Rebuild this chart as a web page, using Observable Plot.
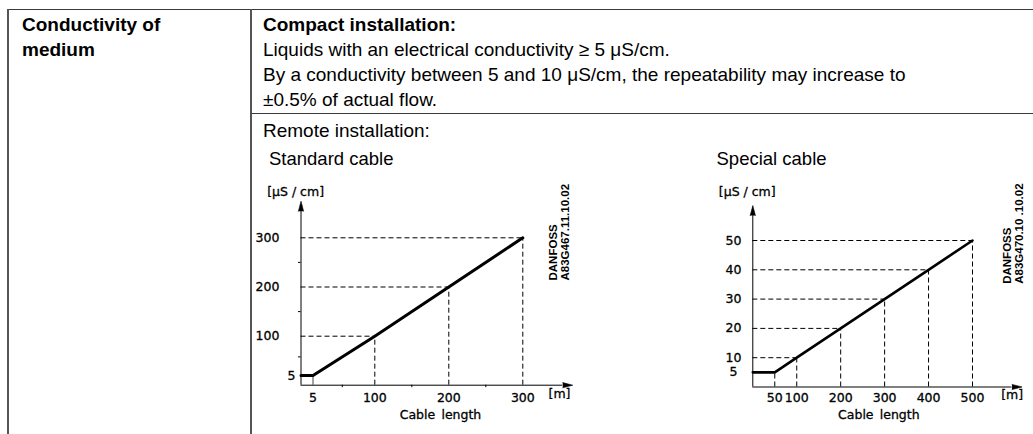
<!DOCTYPE html>
<html><head><meta charset="utf-8">
<script src="https://cdn.jsdelivr.net/npm/d3@7"></script>
<script src="https://cdn.jsdelivr.net/npm/@observablehq/plot@0.6"></script>
<style>
body{margin:0;background:#fff;}
#page{position:relative;width:1033px;height:434px;overflow:hidden;background:#fff;font-family:"Liberation Sans",Arial,sans-serif;color:#000;}
.ln{position:absolute;background:#3a3a3a;}
.t{position:absolute;white-space:nowrap;font-size:19px;line-height:25px;}
.chart{position:absolute;}
.chart svg{overflow:visible;}
</style></head><body>
<div id="page">
  <div class="ln" style="left:8px;top:8.5px;width:1025px;height:1.5px"></div>
  <div class="ln" style="left:7px;top:9px;width:2px;height:425px;background:#555"></div>
  <div class="ln" style="left:250px;top:9px;width:2px;height:425px;background:#555"></div>
  <div class="ln" style="left:251px;top:112.5px;width:782px;height:1.5px"></div>
  <div class="t" style="left:22px;top:12px;font-weight:bold">Conductivity of<br>medium</div>
  <div class="t" style="left:263px;top:12px"><b>Compact installation:</b><br>Liquids with an electrical conductivity ≥ 5 μS/cm.<br>By a conductivity between 5 and 10 μS/cm, the repeatability may increase to<br>±0.5% of actual flow.</div>
  <div class="t" style="left:263px;top:118px">Remote installation:</div>
  <div class="t" style="left:269px;top:146px;font-size:18.5px">Standard cable</div>
  <div class="t" style="left:716.5px;top:146px;font-size:18.5px">Special cable</div>
  <div class="chart" id="c1" style="left:252px;top:140px"></div>
  <div class="chart" id="c2" style="left:690px;top:140px"></div>
</div>
<script>
// ---- data: standard cable ----
const stdLength = [0, 5, 100, 200, 300];
const stdCond   = [5, 5, 100, 200, 300];
const stdXTicks = [5, 100, 200, 300];
const stdYTicks = [100, 200, 300];
const stdYLow   = [5];
const stdMinor  = [50, 150, 250];
// ---- data: special cable ----
const spcLength = [0, 50, 100, 200, 300, 400, 500];
const spcCond   = [5, 5, 10, 20, 30, 40, 50];
const spcXTicks = [50, 100, 200, 300, 400, 500];
const spcYTicks = [10, 20, 30, 40, 50];
const spcYLow   = [5];
const axisUnit  = "[μS / cm]";
const xUnit     = "[m]";
const xTitle    = "Cable\u2002length";
const code1     = "DANFOSS\nA83G467.11.10.02";
const code2     = "DANFOSS\nA83G470.10 .10.02";

const std = stdLength.map((len, i) => ({len, cond: stdCond[i]}));
const spc = spcLength.map((len, i) => ({len, cond: spcCond[i]}));
const over = 1.18;
const F = "'DejaVu Sans', sans-serif";
const T = {fontSize: 12.5, fill: "#000", stroke: "#000", strokeWidth: 0.3};
const A = {fontSize: 12.5, textStroke: "#000", textStrokeWidth: 0.3, label: null};

function axesMarks(xEnd, yEnd) {
  return [
    Plot.ruleY([0], {x1: 0, x2: xEnd, stroke: "#000", strokeWidth: 1}),
    Plot.ruleX([0], {y1: 0, y2: yEnd, stroke: "#000", strokeWidth: 1}),
    Plot.vector([0], {x: xEnd, y: 0, rotate: 90, length: 10, r: 2.6, shape: "spike", anchor: "start", fill: "#000", stroke: "#000", strokeWidth: 0.6}),
    Plot.vector([0], {x: 0, y: yEnd, rotate: 0, length: 10, r: 2.6, shape: "spike", anchor: "start", fill: "#000", stroke: "#000", strokeWidth: 0.6})
  ];
}

// ---- chart 1 ----
const W1 = 330, H1 = 294;
const xr1 = [48.5, 60.5, 122.3, 270.3];
const yr1 = [244.7, 235, 195.7, 97.3];
const stdGuides = std.filter(d => d.len > stdLength[1]);
const stdKink = std.filter((d, i) => i === 1);
const c1 = Plot.plot({
  width: W1, height: H1,
  marginLeft: xr1[0], marginRight: W1 - xr1[3], marginTop: yr1[3], marginBottom: H1 - yr1[0],
  style: {fontFamily: F, fontSize: "12.5px", color: "#000", background: "transparent", overflow: "visible"},
  x: {type: "linear", domain: [0, 5, 100, 300], range: xr1},
  y: {type: "linear", domain: [0, 5, 100, 300], range: yr1},
  marks: [
    Plot.ruleY(stdGuides, {y: "cond", x1: 0, x2: "len", stroke: "#000", strokeWidth: 1, strokeDasharray: "5,3"}),
    Plot.ruleX(stdGuides, {x: "len", y1: 0, y2: "cond", stroke: "#000", strokeWidth: 1, strokeDasharray: "5,3"}),
    Plot.ruleX(stdKink, {x: "len", y1: 0, y2: "cond", stroke: "#444", strokeWidth: 1}),
    ...axesMarks(d3.max(stdLength) * over, d3.max(stdCond) * over),
    Plot.axisX(stdMinor, {tickSize: 2.5, tickFormat: () => "", label: null, strokeWidth: 1}),
    Plot.axisY(stdMinor, {tickSize: 2.5, tickFormat: () => "", label: null, strokeWidth: 1}),
    Plot.line(std, {x: "len", y: "cond", stroke: "#000", strokeWidth: 3, strokeLinejoin: "round"}),
    Plot.axisX(stdXTicks, {tickSize: 0, tickPadding: 7.5, ...A}),
    Plot.axisY(stdYTicks, {tickSize: 0, tickPadding: 0, textAnchor: "start", dx: -45.5, ...A}),
    Plot.axisY(stdYLow, {tickSize: 0, tickPadding: 0, textAnchor: "end", dx: -5.5, ...A}),
    Plot.text([axisUnit], {frameAnchor: "top-left", textAnchor: "start", dx: -33.8, dy: -50.6, ...T}),
    Plot.text([xUnit], {frameAnchor: "bottom-right", textAnchor: "middle", dx: 36.7, dy: 13, ...T}),
    Plot.text([xTitle], {frameAnchor: "bottom", textAnchor: "middle", dx: 28.6, dy: 33.3, ...T}),
    Plot.text([code1], {frameAnchor: "top-right", rotate: -90, textAnchor: "start", lineAnchor: "middle", dx: 36.7, dy: 42.7, fontSize: 11.5, fontWeight: "bold", lineHeight: 1.0, fontFamily: "'Liberation Sans', Arial, sans-serif"})
  ]
});
document.getElementById("c1").append(c1);

// ---- chart 2 ----
const W2 = 343, H2 = 294;
const spcGuides = spc.filter(d => d.len > spcLength[1]);
const spcKink = spc.filter((d, i) => i === 1);
const c2 = Plot.plot({
  width: W2, height: H2,
  marginLeft: 62.3, marginRight: 61, marginTop: 100, marginBottom: 47.5,
  style: {fontFamily: F, fontSize: "12.5px", color: "#000", background: "transparent", overflow: "visible"},
  x: {type: "linear", domain: [0, 500]},
  y: {type: "linear", domain: [0, 50]},
  marks: [
    Plot.ruleY(spcGuides, {y: "cond", x1: 0, x2: "len", stroke: "#000", strokeWidth: 1, strokeDasharray: "5,3"}),
    Plot.ruleX(spcGuides, {x: "len", y1: 0, y2: "cond", stroke: "#000", strokeWidth: 1, strokeDasharray: "5,3"}),
    Plot.ruleX(spcKink, {x: "len", y1: 0, y2: "cond", stroke: "#000", strokeWidth: 1, strokeDasharray: "5,3"}),
    ...axesMarks(d3.max(spcLength) * over, d3.max(spcCond) * 1.17),
    Plot.line(spc, {x: "len", y: "cond", stroke: "#000", strokeWidth: 2.6, strokeLinejoin: "round"}),
    Plot.axisX(spcXTicks, {tickSize: 0, tickPadding: 5.8, ...A}),
    Plot.axisY(spcYTicks, {tickSize: 0, tickPadding: 0, textAnchor: "start", dx: -27.3, ...A}),
    Plot.axisY(spcYLow, {tickSize: 0, tickPadding: 0, textAnchor: "start", dx: -23.3, ...A}),
    Plot.text([axisUnit], {frameAnchor: "top-left", textAnchor: "start", dx: -34, dy: -53.3, ...T}),
    Plot.text([xUnit], {frameAnchor: "bottom-right", textAnchor: "middle", dx: 39.7, dy: 11.5, ...T}),
    Plot.text([xTitle], {frameAnchor: "bottom", textAnchor: "middle", dx: 16.2, dy: 31.8, ...T}),
    Plot.text([code2], {frameAnchor: "top-right", rotate: -90, textAnchor: "start", lineAnchor: "middle", dx: 41, dy: 43.3, fontSize: 11.5, fontWeight: "bold", lineHeight: 1.0, fontFamily: "'Liberation Sans', Arial, sans-serif"})
  ]
});
document.getElementById("c2").append(c2);
</script>
</body></html>
